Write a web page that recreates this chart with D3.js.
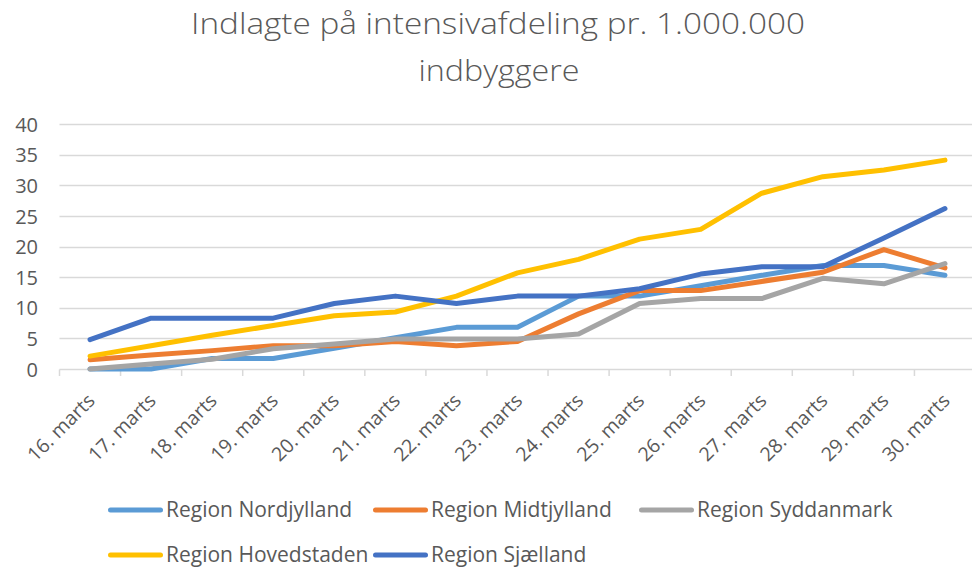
<!DOCTYPE html>
<html>
<head>
<meta charset="utf-8">
<script src="https://cdn.jsdelivr.net/npm/d3@7"></script>
<style>
  html, body { margin: 0; padding: 0; background: #fff; }
  svg { display: block; }
  text { font-family: "Open Sans", "Noto Sans", sans-serif; fill: #595959; }
</style>
</head>
<body>
<svg id="chart" width="972" height="569"></svg>
<script>
// ---- data ----
const dates = ["16. marts","17. marts","18. marts","19. marts","20. marts","21. marts","22. marts","23. marts","24. marts","25. marts","26. marts","27. marts","28. marts","29. marts","30. marts"];
const nordjylland = [0, 0, 1.7, 1.7, 3.4, 5.1, 6.8, 6.8, 11.9, 11.9, 13.6, 15.3, 16.9, 16.9, 15.3];
const midtjylland = [1.5, 2.3, 3.0, 3.8, 3.8, 4.5, 3.8, 4.5, 9.0, 12.8, 12.8, 14.3, 15.8, 19.5, 16.5];
const syddanmark  = [0, 0.8, 1.6, 3.3, 4.1, 4.9, 4.9, 4.9, 5.7, 10.7, 11.5, 11.5, 14.8, 13.9, 17.2];
const hovedstaden = [2.1, 3.8, 5.5, 7.1, 8.7, 9.3, 11.9, 15.7, 17.9, 21.2, 22.8, 28.7, 31.4, 32.5, 34.1];
const sjaelland   = [4.8, 8.3, 8.3, 8.3, 10.7, 11.9, 10.7, 11.9, 11.9, 13.1, 15.5, 16.7, 16.7, 21.4, 26.2];
const yTicks = [0, 5, 10, 15, 20, 25, 30, 35, 40];
const seriesNames = ["Region Nordjylland","Region Midtjylland","Region Syddanmark","Region Hovedstaden","Region Sjælland"];
const titleLines = ["Indlagte på intensivafdeling pr. 1.000.000", "indbyggere"];

// ---- styles ----
const colors = ["#5B9BD5","#ED7D31","#A5A5A5","#FFC000","#4472C4"];
const seriesData = [nordjylland, midtjylland, syddanmark, hovedstaden, sjaelland];

const svg = d3.select("#chart");
const plot = { left: 59.5, right: 975.5, top: 124, bottom: 369 };

const x = d3.scaleBand().domain(dates).range([plot.left, plot.right]).paddingInner(0).paddingOuter(0);
const cx = d => x(d) + x.bandwidth() / 2;
const y = d3.scaleLinear().domain([0, 40]).range([plot.bottom, plot.top]);

// title
svg.append("text").attr("x", 498).attr("y", 33.5).attr("text-anchor", "middle")
  .style("font-size", "30px").style("font-weight", 300).attr("textLength", 614).attr("lengthAdjust", "spacingAndGlyphs")
  .text(titleLines[0]);
svg.append("text").attr("x", 499).attr("y", 81).attr("text-anchor", "middle")
  .style("font-size", "30px").style("font-weight", 300).attr("textLength", 161).attr("lengthAdjust", "spacingAndGlyphs")
  .text(titleLines[1]);

// gridlines
svg.append("g").selectAll("line").data(yTicks.filter(t => t > 0)).join("line")
  .attr("x1", plot.left).attr("x2", plot.right)
  .attr("y1", d => Math.round(y(d)) + 0.5).attr("y2", d => Math.round(y(d)) + 0.5)
  .attr("stroke", "#d9d9d9").attr("stroke-width", 1.5);

// y axis labels
const yAxis = d3.axisLeft(y).tickValues(yTicks).tickSize(0).tickPadding(0);
const gy = svg.append("g").attr("transform", "translate(38,0)").call(yAxis);
gy.select(".domain").remove();
gy.selectAll("text").style("font-size", "20px").style("font-family", "'Open Sans', sans-serif").attr("fill", "#595959").attr("dy", "0.36em");

// x axis line + ticks at band boundaries
const xAxisY = Math.round(y(0)) + 0.5;
svg.append("line").attr("x1", plot.left).attr("x2", plot.right).attr("y1", xAxisY).attr("y2", xAxisY)
  .attr("stroke", "#d9d9d9").attr("stroke-width", 1.5);
const bounds = dates.map(d => x(d)).concat([x(dates[dates.length - 1]) + x.bandwidth()]);
svg.append("g").selectAll("line").data(bounds).join("line")
  .attr("x1", d => d).attr("x2", d => d).attr("y1", xAxisY).attr("y2", xAxisY + 6.5)
  .attr("stroke", "#d9d9d9").attr("stroke-width", 1.5);

// x labels
svg.append("g").selectAll("text").data(dates).join("text")
  .attr("transform", d => `translate(${cx(d) + 6},${402}) rotate(-45)`)
  .attr("text-anchor", "end")
  .style("font-size", "19.5px")
  .text(d => d);

// lines
const line = d3.line().x((v, i) => cx(dates[i])).y(v => y(v));
svg.append("g").selectAll("path").data(seriesData).join("path")
  .attr("d", d => line(d))
  .attr("fill", "none")
  .attr("stroke", (d, i) => colors[i])
  .attr("stroke-width", 5)
  .attr("stroke-linecap", "round")
  .attr("stroke-linejoin", "round");

// legend
const legendPos = [[108, 510], [373, 510], [639, 510], [108, 555], [373, 555]];
const lg = svg.append("g").selectAll("g").data(seriesNames).join("g")
  .attr("transform", (d, i) => `translate(${legendPos[i][0]},${legendPos[i][1]})`);
lg.append("line").attr("x1", 2.5).attr("x2", 52.5).attr("y1", 0).attr("y2", 0)
  .attr("stroke", (d, i) => colors[i]).attr("stroke-width", 5).attr("stroke-linecap", "round");
lg.append("text").attr("x", 58).attr("y", 7).style("font-size", "21px").text(d => d);
</script>
</body>
</html>
